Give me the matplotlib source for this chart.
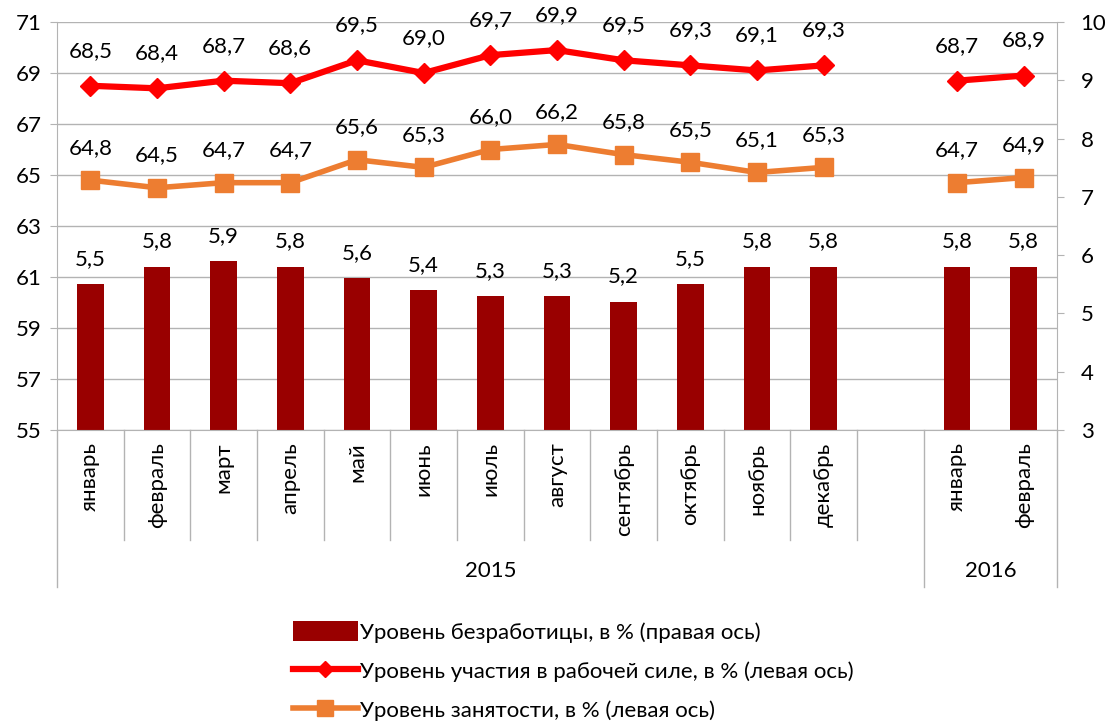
import numpy as np
import matplotlib
matplotlib.use('Agg')
from matplotlib import pyplot as plt
from matplotlib.patches import Patch
from matplotlib.lines import Line2D

plt.rcParams['font.family'] = ['Lato', 'DejaVu Sans']

# Data
months = ['январь', 'февраль', 'март', 'апрель', 'май', 'июнь', 'июль', 'август',
          'сентябрь', 'октябрь', 'ноябрь', 'декабрь', '', 'январь', 'февраль']
years = ['2015', '2016']
unemployment = [5.5, 5.8, 5.9, 5.8, 5.6, 5.4, 5.3, 5.3, 5.2, 5.5, 5.8, 5.8, np.nan, 5.8, 5.8]
participation = [68.5, 68.4, 68.7, 68.6, 69.5, 69.0, 69.7, 69.9, 69.5, 69.3, 69.1, 69.3, np.nan, 68.7, 68.9]
employment = [64.8, 64.5, 64.7, 64.7, 65.6, 65.3, 66.0, 66.2, 65.8, 65.5, 65.1, 65.3, np.nan, 64.7, 64.9]

bar_color = '#990000'
red = '#FF0000'
orange = '#ED7D31'
grid_color = '#B3B3B3'
fs = 16

x = np.arange(len(months))

fig = plt.figure(figsize=(11.06, 7.22), dpi=100)
ax = fig.add_axes([0.0515, 0.4044, 0.9042, 0.5651])
ax2 = ax.twinx()

# bars on right axis (behind)
ax.set_zorder(ax2.get_zorder() + 1)
ax.patch.set_visible(False)
ax2.bar(x, unemployment, width=0.4, color=bar_color, zorder=2)
ax2.set_ylim(3, 10)
ax2.set_yticks(range(3, 11))

# grid from left axis, drawn behind bars
for v in range(55, 72, 2):
    ax2.axhline(3 + (v - 55) * 7 / 16, color=grid_color, lw=1, zorder=0)

for xi, v in zip(x, unemployment):
    if not np.isnan(v):
        ax2.annotate(f'{v:.1f}'.replace('.', ','), (xi, v), xytext=(0, 11),
                     textcoords='offset points', ha='center', va='bottom', fontsize=fs)

# lines on left axis
seg1 = slice(0, 12)
seg2 = slice(13, 15)
for s in (seg1, seg2):
    ax.plot(x[s], participation[s], color=red, lw=4.5, marker='D', ms=10.5, zorder=4)
    ax.plot(x[s], employment[s], color=orange, lw=4, marker='s', ms=13, zorder=3)

for xi, v in zip(x, participation):
    if not np.isnan(v):
        ax.annotate(f'{v:.1f}'.replace('.', ','), (xi, v), xytext=(0, 18),
                    textcoords='offset points', ha='center', va='bottom', fontsize=fs)
for xi, v in zip(x, employment):
    if not np.isnan(v):
        ax.annotate(f'{v:.1f}'.replace('.', ','), (xi, v), xytext=(0, 16),
                    textcoords='offset points', ha='center', va='bottom', fontsize=fs)

ax.set_ylim(55, 71)
ax.set_yticks(range(55, 72, 2))
ax.set_xlim(-0.5, len(months) - 0.5)
ax.set_xticks([])

for a in (ax, ax2):
    for sp in a.spines.values():
        sp.set_visible(False)
    a.tick_params(axis='y', labelsize=fs, length=0, pad=8)
ax.spines['left'].set_visible(True)
ax.spines['left'].set_color(grid_color)
ax.spines['right'].set_visible(True)
ax.spines['right'].set_color(grid_color)
ax.spines['bottom'].set_visible(True)
ax.spines['bottom'].set_color(grid_color)
ax.tick_params(axis='y', length=5, color=grid_color, direction='out', pad=6)
ax2.tick_params(axis='y', length=5, color=grid_color, direction='out', pad=12)

# category labels and separators below the axis
trans = ax.get_xaxis_transform()
for xi, m in zip(x, months):
    ax.text(xi, -0.03, m, rotation=90, ha='center', va='top', fontsize=fs, transform=trans)
short_b = [i + 0.5 for i in range(0, 12)]
long_b = [-0.5, 12.5, 14.5]
for b in short_b:
    ax.plot([b, b], [0, -0.27], color=grid_color, lw=1, transform=trans, clip_on=False)
for b in long_b:
    ax.plot([b, b], [0, -0.385], color=grid_color, lw=1, transform=trans, clip_on=False)
ax.text(6, -0.345, years[0], ha='center', va='center', fontsize=fs, transform=trans)
ax.text(13.5, -0.345, years[1], ha='center', va='center', fontsize=fs, transform=trans)

handles = [
    Patch(facecolor=bar_color),
    Line2D([0], [0], color=red, lw=4.5, marker='D', ms=8),
    Line2D([0], [0], color=orange, lw=4, marker='s', ms=11),
]
labels = ['Уровень безработицы, в % (правая ось)',
          'Уровень участия в рабочей силе, в % (левая ось)',
          'Уровень занятости, в % (левая ось)']
fig.legend(handles, labels, loc='lower left', bbox_to_anchor=(0.247, -0.026),
           frameon=False, fontsize=fs, handlelength=2.9, handletextpad=0.1,
           labelspacing=0.78, handleheight=1.0)

fig.savefig('out.png', dpi=100)
